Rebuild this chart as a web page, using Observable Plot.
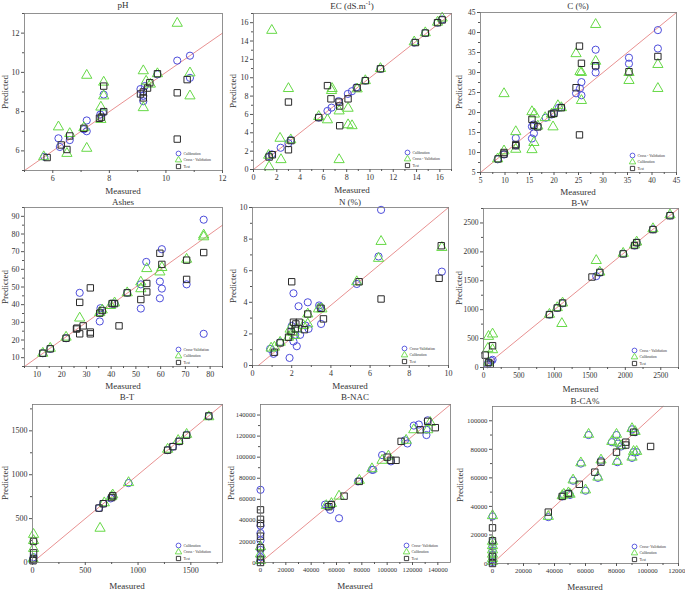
<!DOCTYPE html>
<html><head><meta charset="utf-8">
<script src="https://cdn.jsdelivr.net/npm/d3@7"></script>
<script src="https://cdn.jsdelivr.net/npm/@observablehq/plot@0.6"></script>
<style>
body{margin:0;background:#fff;}
#wrap{position:relative;width:685px;height:592px;overflow:hidden;font-family:"Liberation Serif",serif;color:#333;}
.p{position:absolute;}
.lbl{position:absolute;transform:translate(-50%,-50%);white-space:nowrap;font-size:9px;line-height:9px;}
.ylbl{position:absolute;transform:translate(-50%,-50%) rotate(-90deg);white-space:nowrap;font-size:9px;line-height:9px;}
</style></head><body><div id="wrap"></div>
<script>
// ---------- pH ----------
const phCal = [[5.7,5.7],[6.2,6.64],[6.25,6.2],[6.6,6.55],[7.2,7.55],[7.2,7.0],[7.1,7.1],[7.68,7.85],[7.8,8.87],[7.77,7.95],[9.1,9.15],[9.2,8.53],[9.2,8.8],[9.25,9.3],[9.7,9.9],[10.4,10.6],[10.85,10.85],[10.85,9.72]];
const phCV = [[5.68,5.7],[6.2,7.22],[6.5,5.87],[6.6,6.88],[7.2,9.85],[7.2,6.13],[7.7,8.23],[7.8,9.5],[7.8,8.8],[7.7,7.6],[9.2,10.08],[9.2,8.2],[9.3,9.55],[9.45,9.4],[9.7,9.93],[10.4,12.5],[10.85,9.97],[10.85,8.8],[7.1,7.18]];
const phTest = [[5.8,5.66],[6.3,6.3],[6.5,6.07],[6.6,6.76],[7.1,7.15],[7.65,7.66],[7.72,7.72],[7.8,9.3],[7.8,8.0],[9.1,8.9],[9.2,8.7],[9.35,9.2],[9.43,9.47],[9.7,9.93],[10.4,8.96],[10.75,9.63],[10.4,6.6],[9.2,9.0]];
const phLine = [[5,5],[12,12]];
const phTicks = [6,8,10,12];
// ---------- EC ----------
const ecCal = [[1.34,1.47],[1.57,1.65],[2.33,2.37],[3.0,2.87],[3.2,3.23],[5.6,5.66],[6.35,6.38],[6.7,6.74],[7.3,7.45],[8.1,8.24],[8.45,8.53],[8.83,8.96],[9.6,9.68],[10.9,10.97],[13.8,13.83],[14.75,14.87],[15.8,16.0],[16.2,16.35]];
const ecCV = [[1.34,0.29],[1.57,15.16],[2.28,3.4],[2.36,1.07],[3.0,8.82],[6.35,5.41],[6.75,8.82],[6.7,8.6],[7.35,6.38],[7.35,1.07],[8.12,6.67],[8.12,4.87],[8.46,4.77],[8.9,8.78],[5.6,5.77],[1.3,1.55],[13.8,13.9],[14.75,14.9],[15.8,16.05],[16.2,16.5],[10.9,11.0],[9.6,9.68],[3.2,3.23]];
const ecTest = [[1.34,1.36],[1.62,1.61],[3.0,2.15],[3.0,7.35],[3.22,3.15],[5.6,5.66],[6.35,9.14],[6.65,7.7],[7.35,7.35],[7.4,4.77],[7.4,6.92],[8.12,7.7],[8.9,8.9],[9.6,9.68],[10.9,10.97],[13.9,13.83],[14.75,14.87],[15.8,16.0],[16.2,16.3]];
const ecLine = [[0,0],[17,17]];
const ecTicks = [0,2,4,6,8,10,12,14,16];
// ---------- C (%) ----------
const cCV = [[8.5,8.3],[9.8,9.5],[12.2,13.6],[12.2,11.8],[15.5,16.5],[15.5,13.5],[15.9,14.8],[15.8,17],[16.7,16.5],[18.3,18.7],[19.5,19.5],[20,19.9],[21,21.2],[21.5,21.3],[24.5,24.8],[25.3,26],[25.6,27.6],[25.6,24.3],[28.5,35.7],[28.5,30],[28.5,31.5],[35.3,33.7],[35.3,32.2],[41.2,40.6],[41.2,36]];
const cCal = [[8.5,8.4],[9.8,10.4],[9.8,24.7],[12.2,15.2],[12.2,10.8],[15.5,20.2],[15.5,10.7],[15.9,12.5],[16,19.6],[18.2,18.7],[19.8,16.4],[20.8,21.7],[21.5,21.2],[24.5,34.7],[25.3,30.2],[25.6,30],[25.6,23],[28.5,42],[28.5,32.8],[35.3,28],[35.3,30],[41.2,32],[41.2,26],[16.7,16.6],[19.5,19.6]];
const cTest = [[8.6,8.4],[9.8,10],[9.8,9.6],[12.2,12],[12.2,11.7],[15.5,18.3],[15.9,16.8],[16.7,16.4],[19.5,19.6],[20,19.8],[21.5,21.2],[24.5,26.2],[25.2,36.6],[25.6,32.3],[25.2,14.4],[28.5,31.7],[35.3,30.2],[41.2,34]];
const cLine = [[5,5],[45,45]];
const cTicks = [5,10,15,20,25,30,35,40,45];
// ---------- Ashes ----------
const ashCV = [[12.4,12.5],[15.4,15],[21.8,21],[27.3,46.7],[35.4,30.5],[35.7,38],[41.4,40.6],[46.5,46.7],[52,37.8],[52,51.5],[54.2,64.2],[59.7,43.6],[59.7,53.1],[60.5,71.4],[60.5,49.1],[70.5,51.5],[77.4,88.1],[77.4,23.5],[35.7,35.5],[40.4,40.6]];
const ashCal = [[12.4,12.5],[15.4,15.3],[21.8,21.6],[27.3,32.4],[35.4,35.5],[36.4,37],[39.8,39.5],[41.4,41],[46.5,46.7],[52,52.8],[52,49],[54.4,60.4],[59.7,58.5],[60.5,61],[70.5,65.7],[77.4,79.4],[77.4,78.4]];
const ashTest = [[12.4,12.5],[15.4,15],[21.8,21],[26.2,26.7],[27.3,41.3],[27.3,23.5],[28.7,28],[31.6,49.5],[31.6,24.5],[31.6,23.5],[35.4,35.2],[36.4,36.7],[40.4,40.6],[41.4,40.6],[43.2,28],[46.5,46.7],[52,42.9],[54.4,52],[54.4,47.2],[59.7,69.1],[60.5,62.8],[70.5,65.2],[70.5,54.3],[77.4,69.5],[26,26.2]];
const ashLine = [[5,5],[85,85]];
const ashTicksX = [10,20,30,40,50,60,70,80];
const ashTicksY = [10,20,30,40,50,60,70,80,90];
// ---------- N (%) ----------
const nCV = [[0.9,1.05],[1.07,0.74],[1.41,1.47],[1.89,0.48],[2.09,4.57],[2.09,1.52],[2.18,1.94],[2.26,1.22],[2.35,3.75],[2.43,1.94],[2.82,4.0],[2.86,2.32],[2.7,2.53],[3.4,3.8],[3.5,2.63],[5.32,5.16],[6.43,6.9],[6.56,9.85],[9.66,5.94],[3.45,3.7],[2.0,2.5]];
const nCal = [[0.95,1.1],[1.12,1.16],[1.41,1.47],[1.92,2.3],[2.04,2.1],[2.14,1.9],[2.26,2.3],[2.6,2.53],[2.82,3.26],[2.82,2.63],[3.37,3.58],[3.54,3.58],[5.32,5.3],[6.43,6.78],[6.56,7.85],[9.66,7.47],[1.84,1.79]];
const nTest = [[1.12,0.84],[1.41,1.43],[1.84,1.79],[2.0,5.3],[1.97,2.15],[2.09,2.74],[2.21,2.63],[2.38,2.74],[2.65,2.27],[2.82,3.26],[3.5,3.62],[3.62,2.95],[5.44,5.3],[6.56,4.21],[9.63,7.58],[9.52,5.52],[2.18,2.32]];
const nLine = [[0.3,0],[10,10]];
const nTicks = [0,2,4,6,8,10];
// ---------- B-W ----------
const bwCV = [[71,87],[109,116],[128,133],[57,58],[930,915],[1040,1030],[1115,1110],[1590,1580],[1640,1640],[1970,1970],[2130,2110],[2160,2160],[2390,2390],[2630,2630]];
const bwCal = [[71,538],[128,579],[62,330],[128,307],[71,90],[930,920],[1040,1035],[1105,760],[1590,1850],[1640,1650],[1970,1975],[2130,2120],[2160,2170],[2390,2400],[2630,2640],[1115,1115]];
const bwTest = [[24,214],[128,376],[71,87],[95,58],[1530,1565],[930,915],[1040,1030],[1115,1115],[1640,1645],[1970,1965],[2130,2110],[2160,2160],[2390,2385],[2630,2625]];
const bwLine = [[0,0],[2750,2750]];
const bwTicks = [0,500,1000,1500,2000,2500];
// ---------- B-T ----------
const btCal = [[630,620],[670,670],[740,730],[760,760],[910,905],[1280,1280],[1330,1320],[1390,1380],[1460,1455],[1670,1665],[5,30],[10,60]];
const btCV = [[640,390],[10,320],[10,250],[10,160],[680,680],[750,750],[760,770],[910,910],[1280,1290],[1380,1390],[1460,1460],[1670,1660],[5,40]];
const btTest = [[10,240],[10,110],[10,40],[5,20],[670,670],[750,740],[760,760],[1280,1280],[1330,1320],[1390,1380],[1460,1450],[1670,1670],[630,620]];
const btLine = [[0,0],[1800,1800]];
const btTicks = [0,500,1000,1500];
// ---------- B-NAC ----------
const nacCV = [[0,69000],[0,35000],[0,28000],[0,21000],[0,12000],[0,5000],[0,2000],[51000,55000],[53000,53000],[55000,50000],[56000,55000],[62000,42000],[77000,77000],[88000,88000],[89000,88000],[96000,102000],[103000,96000],[114000,116000],[116000,113000],[121000,130000],[125000,131000],[131000,121000],[132000,135000],[131000,126000]];
const nacCal = [[0,8000],[0,2000],[52000,54000],[56000,56000],[62000,63000],[78000,78000],[88000,89000],[96000,97000],[101000,101000],[115000,116000],[121000,126000],[132000,126000],[134000,133000],[0,15000]];
const nacTest = [[0,50000],[0,41000],[0,37000],[0,25000],[0,14000],[0,3000],[0,0],[54000,53000],[56000,55000],[66000,63000],[78000,77000],[100000,100000],[103000,97000],[107000,97000],[111000,115000],[126000,126000],[132000,134000],[138000,128000]];
const nacLine = [[0,0],[150000,150000]];
const nacTicks = [0,20000,40000,60000,80000,100000,120000,140000];
// ---------- B-CA% ----------
const caCV = [[0,33000],[0,15000],[0,12000],[0,9000],[0,6000],[0,3000],[0,1000],[36000,32500],[45000,47000],[46000,48000],[49000,49000],[50000,48000],[52000,58000],[57000,70000],[60000,51000],[62000,90000],[68000,60000],[70000,72000],[77000,85000],[80000,90000],[80500,71000],[81000,84000],[83000,82000],[90000,94000],[90000,74000],[91000,78000],[92000,92000],[93000,78000]];
const caCal = [[0,33500],[0,15500],[0,12500],[0,9500],[0,6500],[0,3500],[0,1500],[36000,33000],[45000,47500],[46000,48500],[49000,49500],[50000,48500],[52000,58500],[57000,70500],[60000,51500],[62000,90500],[68000,60500],[70000,72500],[77000,85500],[80000,90500],[80500,71500],[81000,84500],[83000,82500],[90000,94500],[90000,74500],[91000,78500],[92000,92500],[93000,78500]];
const caTest = [[0,25000],[0,16000],[0,5000],[0,0],[36000,36000],[45000,47000],[49000,49000],[56000,55500],[66000,64000],[70000,71000],[80000,78000],[86000,83000],[86000,85000],[91000,92000],[102000,82000]];
const caLine = [[0,0],[110000,110000]];
const caTicksX = [0,20000,40000,60000,80000,100000,120000];
const caTicksY = [0,20000,40000,60000,80000,100000];

const BLUE = "#4d4ddb", GREEN = "#66d946", BLACK = "#2a2a2a", RED = "#e58484";

const panels = [
  {title:"pH", xl:"Measured", f:[24,13,222,170], xd:[5,12], yd:[5,13], xt:phTicks, yt:phTicks, minorX:[5,7,9,11], minorY:[5,7,9,11,13], line:phLine, tf:8,
   series:[[phCal,"circle",BLUE,"Calibration"],[phCV,"triangle",GREEN,"Cross - Validation"],[phTest,"square",BLACK,"Test"]], tpos:[123,5], mpos:191, ppos:5},
  {title:"EC (dS.m<sup style='font-size:6px'>-1</sup>)", xl:"Measured", f:[253,13,451,169], xd:[0,17], yd:[0,17], xt:ecTicks, yt:ecTicks, minorX:[1,3,5,7,9,11,13,15,17], minorY:[1,3,5,7,9,11,13,15,17], line:ecLine, tf:8,
   series:[[ecCal,"circle",BLUE,"Calibration"],[ecCV,"triangle",GREEN,"Cross - Validation"],[ecTest,"square",BLACK,"Test"]], tpos:[352,5], mpos:190, ppos:233},
  {title:"C (%)", xl:"Measured", f:[480,12,676,172], xd:[5,45], yd:[5,45], xt:cTicks, yt:cTicks, minorX:d3.range(7.5,45,5), minorY:d3.range(7.5,45,5), line:cLine, tf:7.5,
   series:[[cCV,"circle",BLUE,"Cross - Validation"],[cCal,"triangle",GREEN,"Calibration"],[cTest,"square",BLACK,"Test"]], tpos:[578,6], mpos:192, ppos:459},
  {title:"Ashes", xl:"Measured", f:[24,207,222,366], xd:[5,85], yd:[5,95], xt:ashTicksX, yt:ashTicksY, minorX:d3.range(5,86,10), minorY:d3.range(5,96,10), line:ashLine, tf:8,
   series:[[ashCV,"circle",BLUE,"Cross-Validation"],[ashCal,"triangle",GREEN,"Calibration"],[ashTest,"square",BLACK,"Test"]], tpos:[123,202], mpos:386, ppos:5},
  {title:"N (%)", xl:"Measured", f:[252,207,448,365], xd:[0,10], yd:[0,10], xt:nTicks, yt:nTicks, minorX:[1,3,5,7,9], minorY:[1,3,5,7,9], line:nLine, tf:8,
   series:[[nCV,"circle",BLUE,"Cross-Validation"],[nCal,"triangle",GREEN,"Calibration"],[nTest,"square",BLACK,"Test"]], tpos:[350,202], mpos:386, ppos:233},
  {title:"B-W", xl:"Mensured", f:[483,208,678,367], xd:[0,2750], yd:[0,2750], xt:bwTicks, yt:bwTicks, minorX:d3.range(250,2751,500), minorY:d3.range(250,2751,500), line:bwLine, tf:7.5,
   series:[[bwCV,"circle",BLUE,"Cross - Validation"],[bwCal,"triangle",GREEN,"Calibration"],[bwTest,"square",BLACK,"Test"]], tpos:[580,203], mpos:389, ppos:459},
  {title:"B-T", xl:"Measured", f:[32,404,222,562], xd:[0,1800], yd:[0,1800], xt:btTicks, yt:btTicks, minorX:d3.range(250,1800,500), minorY:d3.range(250,1800,500), line:btLine, tf:8,
   series:[[btCal,"circle",BLUE,"Calibration"],[btCV,"triangle",GREEN,"Cross - Validation"],[btTest,"square",BLACK,"Test"]], tpos:[127,397], mpos:586, ppos:5},
  {title:"B-NAC", xl:"Measured", f:[260,404,450,562], xd:[0,150000], yd:[0,150000], xt:nacTicks, yt:nacTicks, minorX:d3.range(10000,150000,20000), minorY:d3.range(10000,150000,20000), line:nacLine, tf:6.6,
   series:[[nacCV,"circle",BLUE,"Cross- Validation"],[nacCal,"triangle",GREEN,"Calibration"],[nacTest,"square",BLACK,"Test"]], tpos:[355,397], mpos:586, ppos:231},
  {title:"B-CA%", xl:"Measured", f:[492,406,678,563], xd:[0,120000], yd:[0,110000], xt:caTicksX, yt:caTicksY, minorX:d3.range(10000,120000,20000), minorY:d3.range(10000,110000,20000), line:caLine, tf:6.8,
   series:[[caCV,"circle",BLUE,"Cross- Validation"],[caCal,"triangle",GREEN,"Calibration"],[caTest,"square",BLACK,"Test"]], tpos:[585,401], mpos:587, ppos:460}
];

const wrap = document.getElementById("wrap");
const mL = 34, mR = 6, mT = 4, mB = 16;
const fmt = d3.format("d");

for (const p of panels) {
  const [l,t,r,b] = p.f;
  const fw = r - l, fh = b - t;
  const [x0,x1] = p.xd, [y0,y1] = p.yd;
  const lx = x1 - (44/fw)*(x1-x0);
  const lys = [17,10.5,4].map(o => y0 + (o/fh)*(y1-y0));
  const legend = p.series.map((s,i) => ({x: lx, y: lys[i], sym: s[1], col: s[2], name: s[3]}));
  const marks = [
    Plot.line(p.line, {x: d=>d[0], y: d=>d[1], stroke: RED, strokeWidth: 0.9}),
    ...p.series.map(s => Plot.dot(s[0], {x: d=>d[0], y: d=>d[1], symbol: s[1], r: s[1]==="triangle" ? 3.8 : 3.6, stroke: s[2], fill: "none", strokeWidth: 1})),
    Plot.dot(legend, {x:"x", y:"y", symbol: d=>d.sym, stroke: d=>d.col, r: 2.4, fill:"none", strokeWidth: 0.9}),
    Plot.text(legend, {x:"x", y:"y", text:"name", dx: 5, textAnchor:"start", fontSize: 3.8, fill:"#333"}),
    Plot.frame({stroke:"#777", strokeWidth: 0.8}),
    Plot.axisX({ticks: p.xt, tickSize: 3, tickFormat: fmt, label: null, fontSize: p.tf, tickPadding: 2, stroke: "#555"}),
    Plot.axisX({ticks: p.minorX, tickSize: 2, tickFormat: () => "", label: null, stroke: "#555"}),
    Plot.axisY({ticks: p.yt, tickSize: 3, tickFormat: fmt, label: null, fontSize: p.tf, tickPadding: 2, stroke: "#555"}),
    Plot.axisY({ticks: p.minorY, tickSize: 2, tickFormat: () => "", label: null, stroke: "#555"})
  ];
  const svg = Plot.plot({
    width: fw + mL + mR, height: fh + mT + mB,
    marginLeft: mL, marginRight: mR, marginTop: mT, marginBottom: mB,
    x: {domain: p.xd}, y: {domain: p.yd},
    style: {fontFamily: "Liberation Serif, serif", fontSize: "8px", background: "transparent", overflow: "visible", color: "#333"},
    marks
  });
  const div = document.createElement("div");
  div.className = "p";
  div.style.left = (l - mL) + "px";
  div.style.top = (t - mT) + "px";
  div.appendChild(svg);
  wrap.appendChild(div);

  const tt = document.createElement("div");
  tt.className = "lbl"; tt.innerHTML = p.title;
  tt.style.left = p.tpos[0] + "px"; tt.style.top = p.tpos[1] + "px";
  wrap.appendChild(tt);

  const ml = document.createElement("div");
  ml.className = "lbl"; ml.textContent = p.xl;
  ml.style.left = ((l + r)/2) + "px"; ml.style.top = p.mpos + "px";
  wrap.appendChild(ml);

  const pl = document.createElement("div");
  pl.className = "ylbl"; pl.textContent = "Predicted";
  pl.style.left = p.ppos + "px"; pl.style.top = ((t + b)/2) + "px";
  wrap.appendChild(pl);
}
</script></body></html>
